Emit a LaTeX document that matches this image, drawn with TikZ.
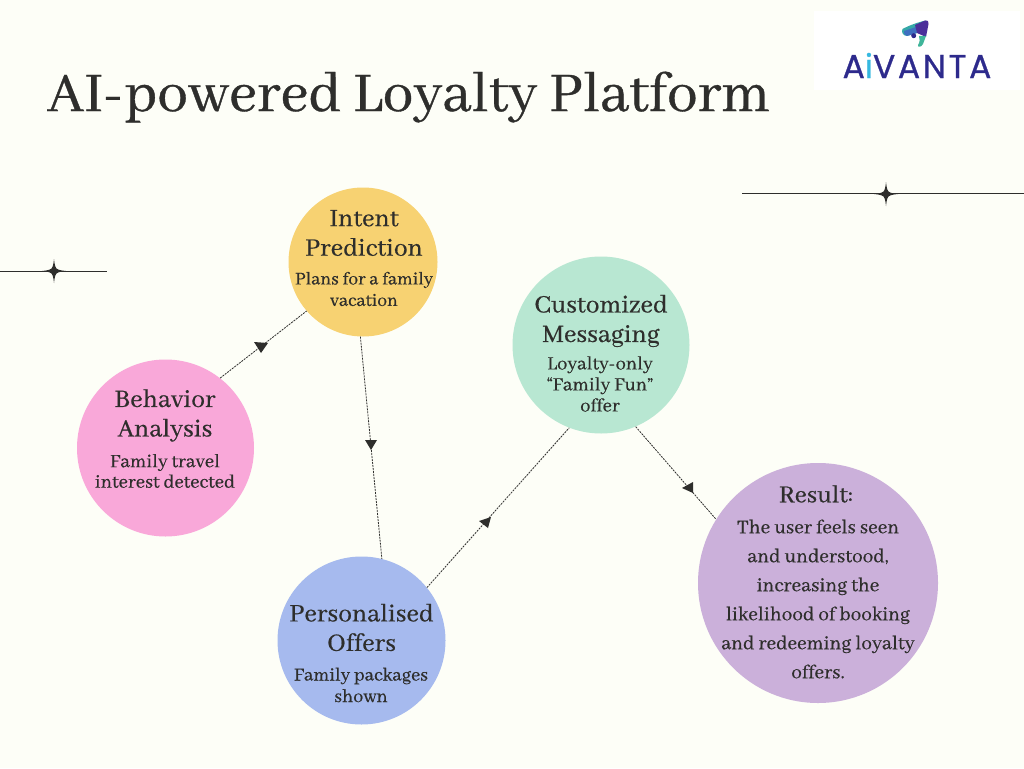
\documentclass[tikz,border=0pt]{standalone}
\usepackage{fontspec}
\newfontfamily\weightfont[FakeBold=0.6]{Abhaya Libre}
\setmainfont{Abhaya Libre}
\newfontfamily\logofont[LetterSpace=8,FakeBold=0.8]{Poppins}
\definecolor{bgc}{HTML}{FDFEF7}
\definecolor{ink}{HTML}{2E2E2C}
\definecolor{cyel}{HTML}{F7D272}
\definecolor{cpink}{HTML}{F9A8D9}
\definecolor{cblue}{HTML}{A6BAEE}
\definecolor{cgreen}{HTML}{B8E7D2}
\definecolor{cpurp}{HTML}{CBB0DA}
\definecolor{lindigo}{HTML}{2D2A8C}
\definecolor{lcyan}{HTML}{35B8E0}
\definecolor{lteal}{HTML}{35A8A8}
\definecolor{lgreen}{HTML}{3FB59A}
\definecolor{lblue}{HTML}{3E6FC0}
\definecolor{lpurp}{HTML}{4A2F9A}
\tikzset{
 x=1pt,y=-1pt,
 bubble/.style={circle,inner sep=0pt,minimum size=#1,draw=none},
 head/.style={font=\weightfont\fontsize{27.5}{30}\selectfont,text=ink,align=center,inner sep=0pt},
 body/.style={font=\weightfont\fontsize{20}{21.5}\selectfont,text=ink,align=center,inner sep=0pt},
 link/.style={draw=ink,line width=0.8pt,dash pattern=on 2pt off 1pt},
 rule/.style={draw=ink,line width=1pt},
}
\newcommand{\spark}[3]{\fill[ink] (#1-#3,#2) .. controls (#1-4,#2-0.8) and (#1-3,#2-2) .. (#1-2.5,#2-2.5) .. controls (#1-2,#2-3) and (#1-0.8,#2-4) .. (#1,#2-#3) .. controls (#1+0.8,#2-4) and (#1+2,#2-3) .. (#1+2.5,#2-2.5) .. controls (#1+3,#2-2) and (#1+4,#2-0.8) .. (#1+#3,#2) .. controls (#1+4,#2+0.8) and (#1+3,#2+2) .. (#1+2.5,#2+2.5) .. controls (#1+2,#2+3) and (#1+0.8,#2+4) .. (#1,#2+#3) .. controls (#1-0.8,#2+4) and (#1-2,#2+3) .. (#1-2.5,#2+2.5) .. controls (#1-3,#2+2) and (#1-4,#2+0.8) .. (#1-#3,#2) -- cycle;}
\begin{document}
\begin{tikzpicture}
\useasboundingbox (0,0) rectangle (1024,768);
\fill[bgc] (0,0) rectangle (1024,768);
% title
\node[anchor=base west,inner sep=0pt,text=ink,font=\weightfont\fontsize{61.5}{70}\selectfont] (title) at (47,111) {AI-powered Loyalty Platform};
% logo
\fill[white] (814,11) rectangle (1020,90);
\fill[lteal] (902.5,29) .. controls (908,26) and (918,22) .. (926,20.5) -- (917,33) -- (907,36) .. controls (903,36) and (901,32) .. (902.5,29) -- cycle;
\fill[lblue] (904,31) -- (916,27) -- (917,33) -- (907,36) .. controls (904.5,36) and (903.5,33) .. (904,31) -- cycle;
\fill[lpurp] (915,25) -- (925,20.5) .. controls (928,20) and (929,22) .. (928.5,24) -- (926,37) -- (917,33) -- cycle;
\fill[lgreen] (926,36) -- (923,44) .. controls (921,48) and (917,47) .. (918,45) .. controls (920,42) and (920,39) .. (919,36) -- cycle;
\fill[lindigo] (913.7,35.7) circle (2.5);
\node[anchor=base,inner sep=0pt,font=\logofont\fontsize{33}{36}\selectfont,text=lindigo] (logo) at (917,78) {A\textcolor{lcyan}{i}VANTA};
% ornaments
\coordinate (ra) at (742,193.5); \coordinate (rb) at (1024,193.5);
\coordinate (la) at (0,271); \coordinate (lb) at (107,271);
\draw[rule] (ra) -- (rb);
\draw[rule] (la) -- (lb);
\spark{886}{194}{12}
\spark{54}{271}{12}
% circles
\node[bubble=149pt,fill=cyel] (intent) at (363,262) {};
\node[bubble=177pt,fill=cpink] (behav) at (165.5,448) {};
\node[bubble=168pt,fill=cblue] (offers) at (361.5,640.5) {};
\node[bubble=177pt,fill=cgreen] (msg) at (601,345) {};
\node[bubble=240pt,fill=cpurp] (result) at (818,583) {};
% connectors
\draw[link] (behav.52) -- (intent.221);
\draw[link] (intent.268.5) -- (offers.76);
\draw[link] (offers.39.2) -- (msg.249.7);
\draw[link] (msg.293.4) -- (result.148.3);
\fill[ink] (254,342) -- (268,343) -- (261,353) -- cycle;
\fill[ink] (365,440) -- (377,440) -- (371,450) -- cycle;
\fill[ink] (479,521) -- (491,517) -- (488,528) -- cycle;
\fill[ink] (682,488) -- (693,482) -- (693,493) -- cycle;
% labels
\node[head] (t1) at (364,233) {Intent\\[-0.5pt]Prediction};
\node[body,font=\weightfont\fontsize{19.5}{21.5}\selectfont] (b1) at (364,289) {Plans for a family\\vacation};
\node[head] (t2) at (165,415.5) {Behavior\\[-0.5pt]Analysis};
\node[body,font=\weightfont\fontsize{20.5}{20.5}\selectfont] (b2) at (165,471) {Family travel\\interest detected};
\node[head] (t3) at (361.5,627.5) {Personalised\\[-0.5pt]Offers};
\node[body] (b3) at (361,685) {Family packages\\shown};
\node[head] (t4) at (601,321) {Customized\\[-0.5pt]Messaging};
\node[body,font=\weightfont\fontsize{20.5}{21}\selectfont] (b4) at (600,384) {Loyalty-only\\“Family Fun”\\offer};
\node[head,font=\weightfont\fontsize{26.5}{30}\selectfont] (t5) at (816,494) {Result:};
\node[body,font=\weightfont\fontsize{21.2}{29}\selectfont] (b5) at (818,599) {The user feels seen\\and understood,\\increasing the\\likelihood of booking\\and redeeming loyalty\\offers.};
\end{tikzpicture}
\end{document}
